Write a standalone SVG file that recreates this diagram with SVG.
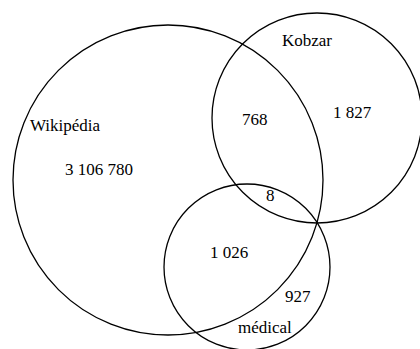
<svg xmlns="http://www.w3.org/2000/svg" width="420" height="349" viewBox="0 0 420 349">
<style>
.set{fill:none;stroke:#000;stroke-width:1.3}
.lbl{font-family:"Liberation Serif","Times New Roman",Times,serif;font-size:17px;fill:#000}
</style>
<rect width="420" height="349" fill="#fff"/>
<g id="wikipedia">
<circle class="set" cx="168" cy="180" r="155"/>
<text class="lbl" font-family="Liberation Serif, serif" x="30" y="131">Wikipédia</text>
<text class="lbl" font-family="Liberation Serif, serif" x="65" y="175">3 106 780</text>
</g>
<g id="kobzar">
<circle class="set" cx="317" cy="118" r="105"/>
<text class="lbl" font-family="Liberation Serif, serif" x="282" y="46">Kobzar</text>
<text class="lbl" font-family="Liberation Serif, serif" x="333" y="118">1 827</text>
</g>
<g id="medical">
<circle class="set" cx="247" cy="267" r="83"/>
<text class="lbl" font-family="Liberation Serif, serif" x="238" y="333">médical</text>
<text class="lbl" font-family="Liberation Serif, serif" x="285" y="302">927</text>
</g>
<g id="intersections">
<text class="lbl" font-family="Liberation Serif, serif" x="242" y="125">768</text>
<text class="lbl" font-family="Liberation Serif, serif" x="266" y="201">8</text>
<text class="lbl" font-family="Liberation Serif, serif" x="210" y="258">1 026</text>
</g>
<g id="connectors"></g>
</svg>
